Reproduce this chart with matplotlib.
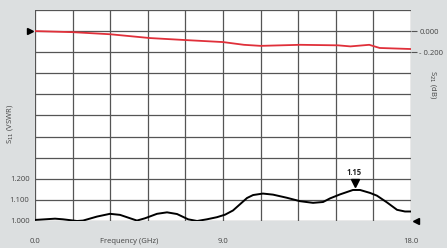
import matplotlib.pyplot as plt
import matplotlib.transforms as mtransforms

## Data
freq_s21 = [0.0, 1.8, 3.6, 5.5, 7.2, 9.0, 10.0, 10.8, 12.7, 14.5, 15.1, 16.0, 16.5, 18.0]
s21_db = [0.0, -0.01, -0.03, -0.066, -0.085, -0.104, -0.13, -0.14, -0.13, -0.135, -0.145, -0.13, -0.16, -0.17]

freq_vswr = [0.0, 0.96, 1.34, 2.01, 2.30, 2.97, 3.59, 4.07, 4.55, 4.88, 5.27, 5.84, 6.32, 6.80, 7.33,
             7.76, 8.23, 8.71, 9.10, 9.48, 10.15, 10.44, 10.91, 11.39, 12.06, 12.68, 13.31, 13.79,
             14.12, 14.60, 15.22, 15.56, 16.04, 16.37, 16.85, 17.33, 17.71, 18.0]
vswr = [1.005, 1.011, 1.008, 1.0, 1.002, 1.021, 1.034, 1.029, 1.013, 1.002, 1.013, 1.034, 1.041, 1.033,
        1.008, 1.0, 1.008, 1.018, 1.030, 1.050, 1.109, 1.123, 1.130, 1.125, 1.110, 1.094, 1.086, 1.090,
        1.107, 1.126, 1.147, 1.147, 1.133, 1.120, 1.088, 1.053, 1.045, 1.045]

peak_freq = 15.3
peak_label = "1.15"

x_labels = ["0.0", "9.0", "18.0"]
x_label_pos = [0.0, 9.0, 18.0]
vswr_ticks = [1.0, 1.1, 1.2]
vswr_ticklabels = ["1.000", "1.100", "1.200"]
s21_ticks = [0.0, -0.2]
s21_ticklabels = ["0.000", "- 0.200"]

plt.rcParams['font.family'] = ['Open Sans', 'DejaVu Sans']
txt = "#444444"

fig = plt.figure(figsize=(4.47, 2.48), dpi=100)
fig.patch.set_facecolor("#dcdfe0")
ax = fig.add_axes([0.0783, 0.1089, 0.8412, 0.8508])
ax.set_facecolor("white")
ax2 = ax.twinx()

# grid 10 x 10
ax.set_xlim(0, 18)
ax.set_ylim(1.0, 2.0)
ax2.set_ylim(-1.8, 0.2)
for i in range(11):
    ax.axvline(i * 1.8, color="#555555", lw=0.9, zorder=1)
    ax.axhline(1.0 + i * 0.1, color="#555555", lw=0.9, zorder=1)
for sp in ax.spines.values():
    sp.set_visible(False)
for sp in ax2.spines.values():
    sp.set_visible(False)

ax.set_xticks([])
ax.set_yticks(vswr_ticks)
ax.set_yticklabels(vswr_ticklabels, fontsize=5.5, color=txt)
ax.tick_params(axis="y", length=0, pad=4)
ax2.set_yticks(s21_ticks)
ax2.set_yticklabels(s21_ticklabels, fontsize=5.5, color=txt)
ax2.tick_params(axis="y", length=4, width=0.8, color="#555555", pad=2)

for lab, pos in zip(x_labels, x_label_pos):
    ax.text(pos, -0.095, lab, transform=ax.get_xaxis_transform(), ha="center", va="center",
            fontsize=5.5, color=txt)
ax.text(0.25, -0.095, "Frequency (GHz)", transform=ax.transAxes, ha="center", va="center",
        fontsize=5.5, color=txt)

fig.text(0.022, 0.5, "S$_{11}$ (VSWR)", rotation=90, ha="center", va="center", fontsize=5.5, color=txt)
fig.text(0.968, 0.66, "S$_{21}$ (dB)", rotation=-90, ha="center", va="center", fontsize=5.5, color=txt)

# curves
ax2.plot(freq_s21, s21_db, color="#e0303a", lw=1.3, zorder=3, solid_joinstyle="round")
ax.plot(freq_vswr, vswr, color="black", lw=1.4, zorder=3, solid_joinstyle="round")

# peak marker
ax.plot([peak_freq], [1.18], marker="v", color="black", markersize=6, zorder=4)
ax.text(peak_freq, 1.232, peak_label, ha="center", va="center", fontsize=5.5,
        fontweight="bold", color="#222222")

# reference arrows
left_tr = mtransforms.blended_transform_factory(ax.transAxes, ax2.transData)
ax2.plot([-0.012], [0.0], marker=">", color="black", markersize=5, transform=left_tr, clip_on=False)
right_tr = mtransforms.blended_transform_factory(ax.transAxes, ax.transData)
ax.plot([1.013], [1.0], marker="<", color="black", markersize=5, transform=right_tr, clip_on=False)

fig.savefig("out.png", dpi=100, facecolor=fig.get_facecolor())
